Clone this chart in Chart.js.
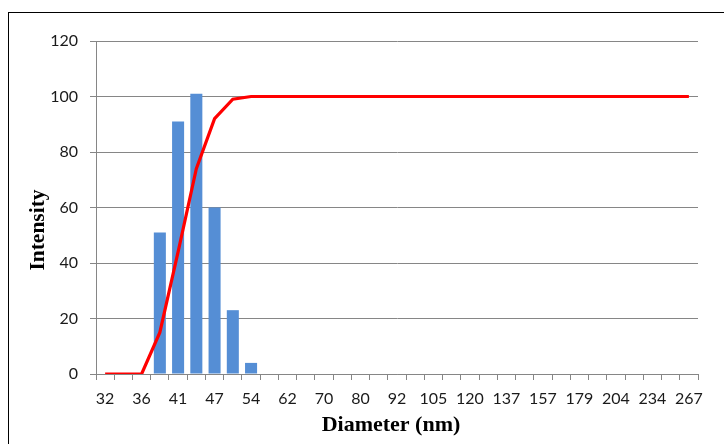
<!DOCTYPE html>
<html>
<head>
<meta charset="utf-8">
<script src="https://cdn.jsdelivr.net/npm/chart.js@4/dist/chart.umd.min.js"></script>
<style>
  html, body { margin: 0; padding: 0; background: #fff; }
  #wrap { position: relative; width: 724px; height: 444px; overflow: hidden; }
  #frame { position: absolute; left: 8px; top: 12px; width: 800px; height: 500px;
           border-left: 1px solid #000; border-top: 1px solid #000; pointer-events: none; }
  canvas { position: absolute; left: 0; top: 0; }
</style>
</head>
<body>
<div id="wrap">
  <canvas id="c" width="724" height="444"></canvas>
  <div id="frame"></div>
</div>
<script>
// Diameter categories (nm); every other one is labelled on the axis
const categories = [32, 34, 36, 38, 41, 44, 47, 50, 54, 58, 62, 66, 70, 75, 80, 85, 92, 98,
                    105, 112, 120, 128, 137, 146, 157, 168, 179, 191, 204, 218, 234, 250, 267];
// Intensity distribution (bars)
const intensity = [0, 0, 0, 51, 91, 101, 60, 23, 4, 0, 0, 0, 0, 0, 0, 0, 0, 0,
                   0, 0, 0, 0, 0, 0, 0, 0, 0, 0, 0, 0, 0, 0, 0];
// Cumulative intensity (red line)
const cumulative = [0, 0, 0, 15, 44, 74, 92, 99, 100, 100, 100, 100, 100, 100, 100, 100, 100, 100,
                    100, 100, 100, 100, 100, 100, 100, 100, 100, 100, 100, 100, 100, 100, 100];
const yTicks = [0, 20, 40, 60, 80, 100, 120];
const xTitle = 'Diameter (nm)';
const yTitle = 'Intensity';

const axisTitles = {
  id: 'axisTitles',
  afterDraw(chart) {
    const ctx = chart.ctx;
    const a = chart.chartArea;
    ctx.save();
    ctx.fillStyle = '#000';
    ctx.font = 'bold 22px "Liberation Serif", "Times New Roman", serif';
    ctx.textAlign = 'center';
    ctx.textBaseline = 'middle';
    ctx.fillText(xTitle, (a.left + a.right) / 2 - 6, 425);
    ctx.font = 'bold 21.5px "Liberation Serif", "Times New Roman", serif';
    ctx.translate(38.5, 230);
    ctx.rotate(-Math.PI / 2);
    ctx.fillText(yTitle, 0, 0);
    ctx.restore();
  }
};

new Chart(document.getElementById('c'), {
  type: 'bar',
  data: {
    labels: categories.map(String),
    datasets: [
      {
        type: 'line',
        data: cumulative,
        borderColor: '#FF0000',
        borderWidth: 3.2,
        pointRadius: 0,
        tension: 0,
        fill: false,
        order: 0
      },
      {
        type: 'bar',
        data: intensity,
        backgroundColor: '#558ED5',
        borderWidth: 0,
        barPercentage: 0.66,
        categoryPercentage: 1.0,
        order: 1
      }
    ]
  },
  options: {
    responsive: false,
    animation: false,
    devicePixelRatio: 1,
    layout: { padding: { top: 41, right: 26, left: 0, bottom: 0 } },
    plugins: { legend: { display: false }, tooltip: { enabled: false } },
    scales: {
      x: {
        offset: true,
        grid: { offset: true, drawOnChartArea: false, drawTicks: true, tickLength: 6, color: '#868686' },
        border: { display: true, color: '#868686', width: 1 },
        ticks: {
          autoSkip: false, maxRotation: 0, minRotation: 0, padding: 9,
          color: '#1a1a1a',
          font: { family: 'Lato', size: 16 },
          callback: function (v, i) { return i % 2 === 0 ? String(categories[i]) : ''; }
        },
        afterFit: function (s) { s.height = 70; }
      },
      y: {
        min: 0, max: 120,
        afterBuildTicks: function (s) { s.ticks = yTicks.map(v => ({ value: v })); },
        grid: { color: '#868686', drawTicks: true, tickLength: 6 },
        border: { display: true, color: '#868686', width: 1 },
        ticks: {
          padding: 12, color: '#1a1a1a',
          font: { family: 'Lato', size: 16 }
        },
        afterFit: function (s) { s.width = 96; }
      }
    }
  },
  plugins: [axisTitles]
});
</script>
</body>
</html>
